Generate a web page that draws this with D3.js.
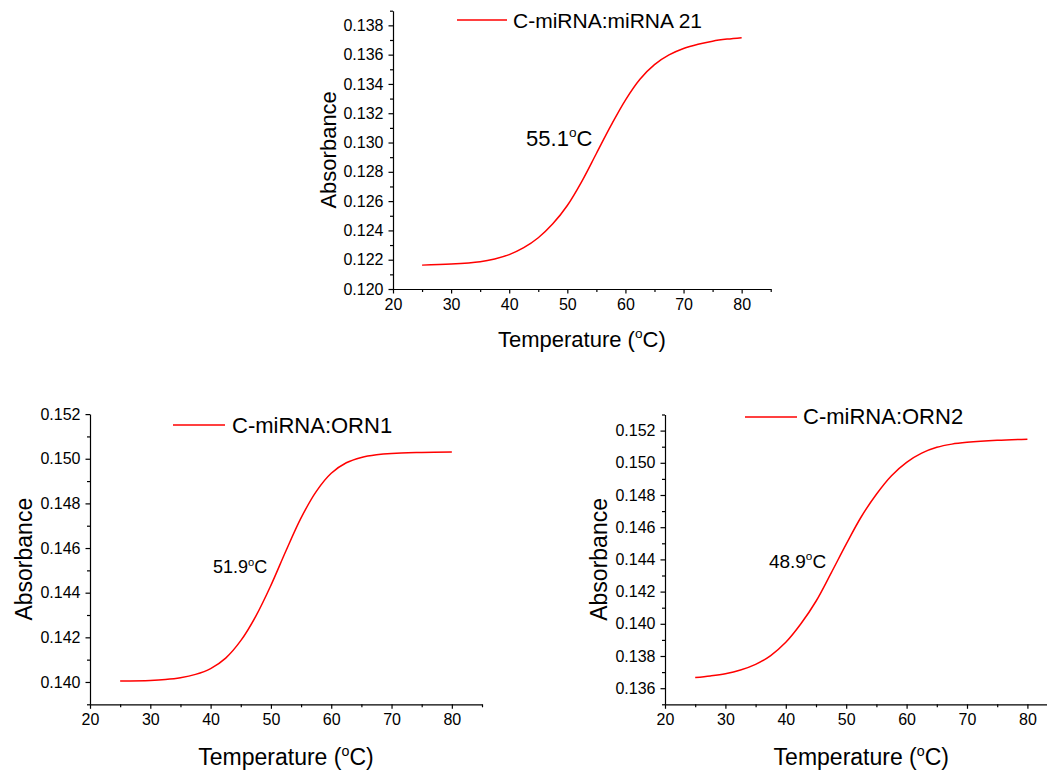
<!DOCTYPE html>
<html>
<head>
<meta charset="utf-8">
<script src="https://cdn.jsdelivr.net/npm/d3@7"></script>
<style>
  body { margin: 0; background: #fff; }
  svg { display: block; font-family: "Liberation Sans", Arial, sans-serif; }
</style>
</head>
<body>
<div id="chart"></div>
<script>
// melting curves
const tempsTop = [25, 30, 35, 37.5, 40, 42.5, 45, 47.5, 50, 52.5, 55, 57.5, 60, 62.5, 65, 67.5, 70, 72.5, 75, 77.5, 80];
const absTop = [0.12163, 0.12170, 0.12186, 0.12205, 0.12235, 0.12282, 0.12350, 0.12445, 0.12570, 0.12735, 0.12925,
  0.13115, 0.13290, 0.13432, 0.13532, 0.13598, 0.13642, 0.13671, 0.13692, 0.13706, 0.13716];

const tempsOrn1 = [25, 30, 32.5, 35, 37.5, 40, 42.5, 45, 47.5, 50, 52.5, 55, 57.5, 60, 62.5, 65, 67.5, 70, 75, 80];
const absOrn1 = [0.14004, 0.14007, 0.14011, 0.14019, 0.14034, 0.14060, 0.14107, 0.14185, 0.14295, 0.14433, 0.14588,
  0.14735, 0.14853, 0.14935, 0.14982, 0.15006, 0.15018, 0.15024, 0.15028, 0.15030];

const tempsOrn2 = [25, 27.5, 30, 32.5, 35, 37.5, 40, 42.5, 45, 47.5, 50, 52.5, 55, 57.5, 60, 62.5, 65, 67.5, 70, 75, 80];
const absOrn2 = [0.13666, 0.13676, 0.13690, 0.13713, 0.13748, 0.13803, 0.13885, 0.14000, 0.14140, 0.14315, 0.14495,
  0.14665, 0.14805, 0.14920, 0.15003, 0.15060, 0.15096, 0.15116, 0.15127, 0.15140, 0.15147];

const legendNames = ["C-miRNA:miRNA 21", "C-miRNA:ORN1", "C-miRNA:ORN2"];
const meltLabels = ["55.1", "51.9", "48.9"];
const xMajorTicks = [20, 30, 40, 50, 60, 70, 80];
const xMinorTicks = [25, 35, 45, 55, 65, 75, 85];
const yMajorTop = [0.120, 0.122, 0.124, 0.126, 0.128, 0.130, 0.132, 0.134, 0.136, 0.138];
const yMajorOrn1 = [0.140, 0.142, 0.144, 0.146, 0.148, 0.150, 0.152];
const yMajorOrn2 = [0.136, 0.138, 0.140, 0.142, 0.144, 0.146, 0.148, 0.150, 0.152];

const width = 1047, height = 771;
const svg = d3.select("#chart").append("svg")
  .attr("width", width).attr("height", height);
svg.append("rect").attr("width", width).attr("height", height).attr("fill", "#fff");

const panels = [
  { temps: tempsTop, abs: absTop, name: legendNames[0], tm: meltLabels[0], yTicks: yMajorTop,
    yDomain: [0.120, 0.139], xRange: [393, 770.7], yRange: [289, 10.7],
    yLabelX: 336, xLabelY: 347, titleSize: 22,
    legend: { x1: 457, x2: 507, y: 20, tx: 513, ty: 28, size: 21 },
    note: { t: 42.9, v: 0.12976, size: 22 } },
  { temps: tempsOrn1, abs: absOrn1, name: legendNames[1], tm: meltLabels[1], yTicks: yMajorOrn1,
    yDomain: [0.139, 0.152], xRange: [90, 482], yRange: [704.3, 414.1],
    yLabelX: 32, xLabelY: 765, titleSize: 23,
    legend: { x1: 173, x2: 225, y: 425, tx: 232, ty: 433, size: 22 },
    note: { t: 40.4, v: 0.14487, size: 18 } },
  { temps: tempsOrn2, abs: absOrn2, name: legendNames[2], tm: meltLabels[2], yTicks: yMajorOrn2,
    yDomain: [0.135, 0.153], xRange: [665, 1057.6], yRange: [704.3, 414.5],
    yLabelX: 607, xLabelY: 765, titleSize: 23,
    legend: { x1: 745, x2: 797, y: 417, tx: 803, ty: 424, size: 22 },
    note: { t: 37.2, v: 0.14347, size: 19 } }
];

// text with a raised small "o" before C
function degreeText(sel, before, after, size) {
  sel.append("tspan").text(before);
  sel.append("tspan").attr("font-size", size * 0.62).attr("dy", -size * 0.4).text("o");
  sel.append("tspan").attr("dy", size * 0.4).text("C" + after);
}

panels.forEach(p => {
  const x = d3.scaleLinear().domain([20, 85]).range(p.xRange);
  const y = d3.scaleLinear().domain(p.yDomain).range(p.yRange);
  const g = svg.append("g");

  const yMinor = d3.range(Math.round(p.yDomain[0] * 1000), Math.round(p.yDomain[1] * 1000) + 1)
    .map(d => d / 1000)
    .filter(d => !p.yTicks.some(t => Math.abs(t - d) < 1e-9));

  // minor ticks first
  g.append("g").attr("transform", `translate(0,${p.yRange[0]})`)
    .call(d3.axisBottom(x).tickValues(xMinorTicks).tickSize(3).tickFormat(""))
    .call(a => a.select(".domain").remove());
  g.append("g").attr("transform", `translate(${p.xRange[0]},0)`)
    .call(d3.axisLeft(y).tickValues(yMinor).tickSize(3).tickFormat(""))
    .call(a => a.select(".domain").remove());

  const xAxis = g.append("g").attr("transform", `translate(0,${p.yRange[0]})`)
    .call(d3.axisBottom(x).tickValues(xMajorTicks).tickSize(4.5).tickSizeOuter(0).tickPadding(5));
  const yAxis = g.append("g").attr("transform", `translate(${p.xRange[0]},0)`)
    .call(d3.axisLeft(y).tickValues(p.yTicks).tickFormat(d3.format(".3f")).tickSize(4.5).tickSizeOuter(0).tickPadding(5));

  [xAxis, yAxis].forEach(a => {
    a.selectAll("text").attr("font-size", 16).attr("fill", "#000")
      .attr("font-family", "'Liberation Sans', Arial, sans-serif");
  });
  g.selectAll(".domain, .tick line").attr("stroke", "#000").attr("stroke-width", 1.2);

  // curve
  const pts = p.temps.map((t, i) => [t, p.abs[i]]);
  g.append("path")
    .datum(pts)
    .attr("fill", "none")
    .attr("stroke", "#ff0000")
    .attr("stroke-width", 1.5)
    .attr("d", d3.line().x(d => x(d[0])).y(d => y(d[1])).curve(d3.curveCatmullRom.alpha(0.5)));

  // axis titles
  const xMid = (p.xRange[0] + p.xRange[1]) / 2;
  const yMid = (p.yRange[0] + p.yRange[1]) / 2;
  g.append("text")
    .attr("x", xMid).attr("y", p.xLabelY)
    .attr("text-anchor", "middle").attr("font-size", p.titleSize)
    .call(s => degreeText(s, "Temperature (", ")", p.titleSize));
  g.append("text")
    .attr("transform", `translate(${p.yLabelX},${yMid}) rotate(-90)`)
    .attr("text-anchor", "middle").attr("font-size", p.titleSize)
    .text("Absorbance");

  // legend
  g.append("line")
    .attr("x1", p.legend.x1).attr("x2", p.legend.x2)
    .attr("y1", p.legend.y).attr("y2", p.legend.y)
    .attr("stroke", "#ff0000").attr("stroke-width", 1.5);
  g.append("text")
    .attr("x", p.legend.tx).attr("y", p.legend.ty)
    .attr("font-size", p.legend.size)
    .text(p.name);

  // Tm annotation
  g.append("text")
    .attr("x", x(p.note.t)).attr("y", y(p.note.v))
    .attr("font-size", p.note.size)
    .call(s => degreeText(s, p.tm, "", p.note.size));
});
</script>
</body>
</html>
